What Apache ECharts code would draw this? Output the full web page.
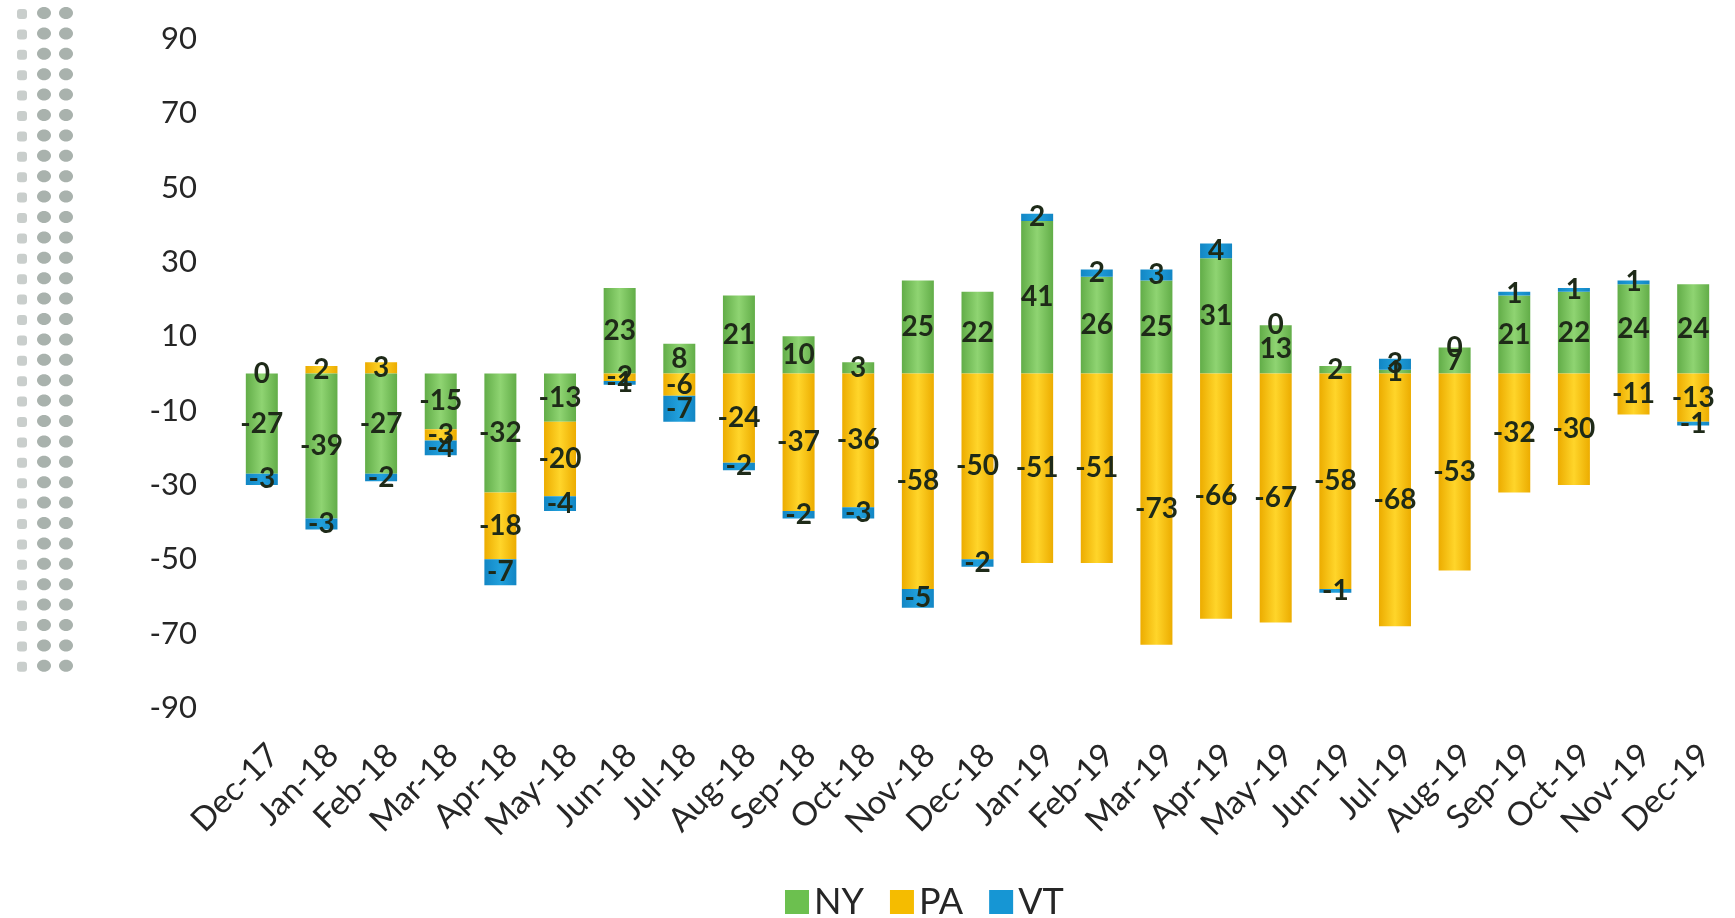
<!DOCTYPE html>
<html><head><meta charset="utf-8">
<script src="https://cdn.jsdelivr.net/npm/echarts@6/dist/echarts.min.js"></script>
<style>html,body{margin:0;padding:0;background:#fff}#c{width:1735px;height:918px}</style>
</head><body><div id="c"></div>
<script>
const categories = ['Dec-17','Jan-18','Feb-18','Mar-18','Apr-18','May-18','Jun-18','Jul-18','Aug-18','Sep-18','Oct-18','Nov-18','Dec-18','Jan-19','Feb-19','Mar-19','Apr-19','May-19','Jun-19','Jul-19','Aug-19','Sep-19','Oct-19','Nov-19','Dec-19'];
const ny = [-27,-39,-27,-15,-32,-13,23,8,21,10,3,25,22,41,26,25,31,13,2,1,7,21,22,24,24];
const pa = [0,2,3,-3,-18,-20,-2,-6,-24,-37,-36,-58,-50,-51,-51,-73,-66,-67,-58,-68,-53,-32,-30,-11,-13];
const vt = [-3,-3,-2,-4,-7,-4,-1,-7,-2,-2,-3,-5,-2,2,2,3,4,0,-1,3,0,1,1,1,-1];
const yMin = -90, yMax = 90, yStep = 20;

const FONT = 'Lato, "Noto Sans", sans-serif';
function grad(edge, mid) {
  return {type:'linear',x:0,y:0,x2:1,y2:0,colorStops:[{offset:0,color:edge},{offset:0.5,color:mid},{offset:1,color:edge}]};
}
const styles = {
  NY: {color: grad('#62ad48','#8fd472'), legend:'#6cc04f'},
  PA: {color: grad('#ecac00','#ffd52a'), legend:'#f5bc00'},
  VT: {color: grad('#1286c4','#21a0dc'), legend:'#1696d4'}
};
const seriesData = {NY: ny, PA: pa, VT: vt};

const series = [];
['pos','neg'].forEach(function(stack){
  ['NY','PA','VT'].forEach(function(name){
    const vals = seriesData[name].map(function(v){
      const keep = stack === 'pos' ? v >= 0 : v < 0;
      return keep ? v : {value: 0, label: {show: false}};
    });
    series.push({
      name: name, type: 'bar', stack: stack, stackStrategy: 'all',
      barWidth: 32, barGap: '-100%',
      data: vals,
      itemStyle: {color: styles[name].color},
      label: {show: true, position: 'inside', fontFamily: FONT, fontWeight: 'bold', fontSize: 28, color: '#1e2a18'},
      emphasis: {disabled: true}
    });
  });
});

// decorative dots on the left
const graphics = [];
for (let r = 0; r < 33; r++) {
  const y = 14 + r * 20.4;
  graphics.push({type:'rect', shape:{x:17, y:y-5, width:10, height:10, r:3}, style:{fill:'#c9cecc'}, silent:true});
  graphics.push({type:'ellipse', shape:{cx:44, cy:y-1, rx:7, ry:6}, style:{fill:'#a9b2ad'}, silent:true});
  graphics.push({type:'ellipse', shape:{cx:66, cy:y-1, rx:7, ry:6}, style:{fill:'#a9b2ad'}, silent:true});
}

const chart = echarts.init(document.getElementById('c'));
chart.setOption({
  backgroundColor: '#ffffff',
  animation: false,
  graphic: graphics,
  grid: {left: 232, right: 12, top: 39, bottom: 210, containLabel: false},
  legend: {
    data: ['NY','PA','VT'].map(function(n){return {name:n, itemStyle:{color:styles[n].legend}};}),
    left: 780, top: 879, icon: 'rect', itemWidth: 24, itemHeight: 24, itemGap: 26,
    textStyle: {fontFamily: FONT, fontSize: 36, color: '#262626'}
  },
  xAxis: {
    type: 'category', data: categories,
    axisLine: {show: false}, axisTick: {show: false},
    axisLabel: {rotate: 45, fontFamily: FONT, fontSize: 33, color: '#262626', margin: 30, interval: 0, verticalAlign: 'top'}
  },
  yAxis: {
    type: 'value', min: yMin, max: yMax, interval: yStep,
    splitLine: {show: false}, axisLine: {show: false}, axisTick: {show: false},
    axisLabel: {fontFamily: FONT, fontSize: 31, color: '#262626', margin: 35}
  },
  series: series
});
</script></body></html>
